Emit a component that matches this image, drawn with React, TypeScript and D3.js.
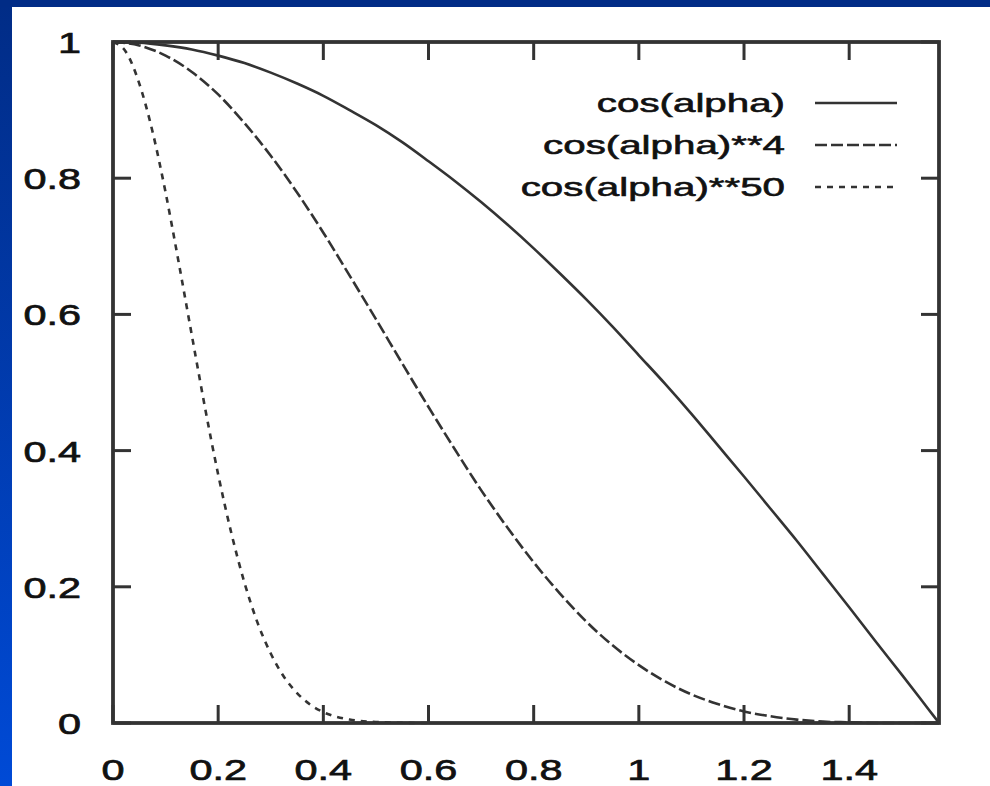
import * as d3 from "d3";

// values
const xTicks = [0, 0.2, 0.4, 0.6, 0.8, 1, 1.2, 1.4];
const yTicks = [0, 0.2, 0.4, 0.6, 0.8, 1];

const xs = [0, 0.05, 0.1, 0.15, 0.2, 0.25, 0.3, 0.35, 0.4, 0.45, 0.5, 0.55, 0.6, 0.65, 0.7, 0.75, 0.8, 0.85, 0.9, 0.95, 1.0, 1.05, 1.1, 1.15, 1.2, 1.25, 1.3, 1.35, 1.4, 1.45, 1.5, 1.55, 1.571];
const cos1 = [1, 0.999, 0.995, 0.989, 0.98, 0.969, 0.955, 0.939, 0.921, 0.9, 0.878, 0.853, 0.825, 0.796, 0.765, 0.732, 0.697, 0.66, 0.622, 0.582, 0.54, 0.498, 0.454, 0.408, 0.362, 0.315, 0.268, 0.219, 0.17, 0.12, 0.071, 0.021, 0];
const cos4 = [1, 0.995, 0.98, 0.956, 0.923, 0.881, 0.833, 0.779, 0.72, 0.657, 0.593, 0.528, 0.464, 0.402, 0.342, 0.287, 0.236, 0.19, 0.149, 0.114, 0.085, 0.061, 0.042, 0.028, 0.017, 0.01, 0.005, 0.002, 0.001, 0, 0, 0, 0];

const xs50 = [0, 0.025, 0.05, 0.075, 0.1, 0.125, 0.15, 0.175, 0.2, 0.225, 0.25, 0.275, 0.3, 0.325, 0.35, 0.375, 0.4, 0.45, 0.5, 0.55, 0.6];
const cos50 = [1, 0.985, 0.939, 0.869, 0.779, 0.676, 0.569, 0.463, 0.365, 0.279, 0.206, 0.147, 0.102, 0.068, 0.044, 0.027, 0.016, 0.005, 0.0015, 0.0003, 0];

const labels = ["cos(alpha)", "cos(alpha)**4", "cos(alpha)**50"];
const dashes = ["none", "12 4", "6 6"];

const W = 990, H = 786;
const left = 113, right = 939, top = 42, bottom = 723;
const ink = "#333";

export default function App() {
  const x = d3.scaleLinear().domain([0, Math.PI / 2]).range([left, right]);
  const y = d3.scaleLinear().domain([0, 1]).range([bottom, top]);
  const line = d3
    .line<[number, number]>()
    .x((d) => x(d[0]))
    .y((d) => y(d[1]))
    .curve(d3.curveMonotoneX);

  const series = [
    d3.zip(xs, cos1) as [number, number][],
    d3.zip(xs, cos4) as [number, number][],
    d3.zip(xs50, cos50) as [number, number][],
  ];

  const tickLen = 18;
  const font = "'Liberation Sans', Arial, sans-serif";

  return (
    <svg width={W} height={H} style={{ position: "absolute", left: 0, top: 0 }}>
      <defs>
        <linearGradient id="side" x1="0" y1="0" x2="0" y2="1">
          <stop offset="0" stopColor="#012c86" />
          <stop offset="1" stopColor="#004ad6" />
        </linearGradient>
      </defs>
      <rect width={W} height={H} fill="#fff" />
      <rect x={0} y={0} width={12} height={H} fill="url(#side)" />
      <rect x={0} y={0} width={W} height={7} fill="#012c86" />

      {/* curves */}
      {series.map((s, i) => (
        <path
          key={i}
          d={line(s) ?? ""}
          fill="none"
          stroke={ink}
          strokeWidth={2.6}
          strokeDasharray={dashes[i]}
        />
      ))}

      {/* ticks */}
      {xTicks.map((t) => (
        <g key={"x" + t}>
          <line x1={x(t)} x2={x(t)} y1={bottom} y2={bottom - tickLen} stroke={ink} strokeWidth={3} />
          <line x1={x(t)} x2={x(t)} y1={top} y2={top + tickLen} stroke={ink} strokeWidth={3} />
          <g transform={`translate(${x(t)},780) scale(1.38,1)`}>
            <text textAnchor="middle" fontFamily={font} fontSize={30} fill="#111" stroke="#111" strokeWidth={0.7}>
              {String(t)}
            </text>
          </g>
        </g>
      ))}
      {yTicks.map((t) => (
        <g key={"y" + t}>
          <line x1={left} x2={left + tickLen} y1={y(t)} y2={y(t)} stroke={ink} strokeWidth={3} />
          <line x1={right} x2={right - tickLen} y1={y(t)} y2={y(t)} stroke={ink} strokeWidth={3} />
          <g transform={`translate(81,${y(t) + 11}) scale(1.38,1)`}>
            <text textAnchor="end" fontFamily={font} fontSize={30} fill="#111" stroke="#111" strokeWidth={0.7}>
              {String(t)}
            </text>
          </g>
        </g>
      ))}

      {/* frame */}
      <rect
        x={left}
        y={top}
        width={right - left}
        height={bottom - top}
        fill="none"
        stroke={ink}
        strokeWidth={3.8}
      />

      {/* legend */}
      {labels.map((l, i) => {
        const ly = 103 + i * 42;
        return (
          <g key={l}>
            <g transform={`translate(785,${ly + 9}) scale(1.55,1)`}>
              <text textAnchor="end" fontFamily={font} fontSize={26} fill="#111" stroke="#111" strokeWidth={0.6}>
                {l}
              </text>
            </g>
            <line x1={815} x2={897} y1={ly} y2={ly} stroke={ink} strokeWidth={2.6} strokeDasharray={dashes[i]} />
          </g>
        );
      })}
    </svg>
  );
}
